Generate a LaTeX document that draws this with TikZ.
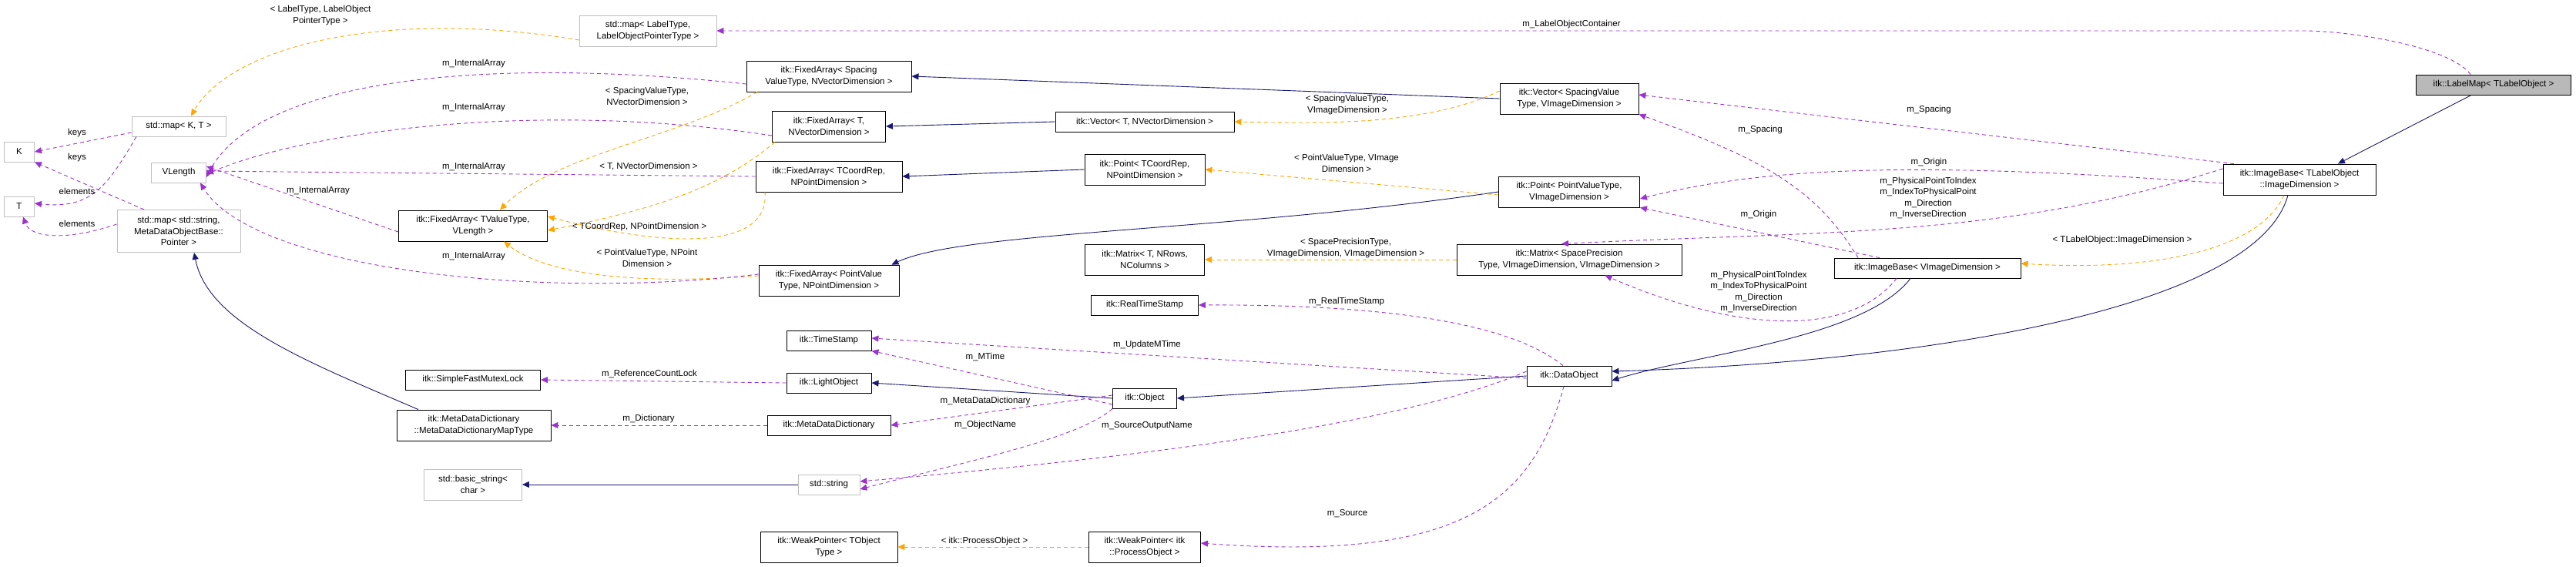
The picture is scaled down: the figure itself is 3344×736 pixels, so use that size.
\documentclass[tikz,border=0pt]{standalone}
\usepackage{fontspec}
\setmainfont{Liberation Sans}
\usepackage{tikz}
\usetikzlibrary{arrows.meta}
\definecolor{inhcol}{HTML}{191970}
\definecolor{usecol}{HTML}{9A32CD}
\definecolor{tplcol}{HTML}{FFA500}
\definecolor{stdcol}{HTML}{BFBFBF}
\tikzset{
  cls/.style={draw=black, line width=0.9pt, inner sep=1pt, align=center, font=\fontsize{11.5}{14.5}\selectfont},
  ext/.style={cls, draw=stdcol},
  lbl/.style={align=center, inner sep=0pt, font=\fontsize{11.5}{14.5}\selectfont},
  inh/.style={inhcol, line width=0.9pt, -{Triangle[length=9pt,width=8pt]}},
  use/.style={usecol, line width=0.9pt, dashed, dash pattern=on 5pt off 4pt, -{Triangle[length=9pt,width=8pt]}},
  tpl/.style={tplcol, line width=0.9pt, dashed, dash pattern=on 5pt off 4pt, -{Triangle[length=9pt,width=8pt]}},
}
\begin{document}
\begin{tikzpicture}[x=1pt,y=-1pt]
\useasboundingbox (0,0) rectangle (3344,736);

% classes
\node[cls, fill=gray!55, minimum width=201, minimum height=26] (labelmap) at (3237,110) {itk::LabelMap< TLabelObject >};
\node[cls, minimum width=198, minimum height=40] (imgbaseTL) at (2985,233) {itk::ImageBase< TLabelObject\\::ImageDimension >};
\node[cls, minimum width=242, minimum height=26] (imgbaseV) at (2502,348) {itk::ImageBase< VImageDimension >};
\node[cls, minimum width=180, minimum height=40] (vecSp) at (2037,128) {itk::Vector< SpacingValue\\Type, VImageDimension >};
\node[cls, minimum width=183, minimum height=40] (pointPV) at (2037,249) {itk::Point< PointValueType,\\VImageDimension >};
\node[cls, minimum width=292, minimum height=40] (matSP) at (2037,337) {itk::Matrix< SpacePrecision\\Type, VImageDimension, VImageDimension >};
\node[cls, minimum width=110, minimum height=26] (dataobj) at (2037,488) {itk::DataObject};
\node[cls, minimum width=232, minimum height=26] (vecTN) at (1486,158) {itk::Vector< T, NVectorDimension >};
\node[cls, minimum width=156, minimum height=40] (pointTC) at (1486,220) {itk::Point< TCoordRep,\\NPointDimension >};
\node[cls, minimum width=155, minimum height=40] (matT) at (1486,337) {itk::Matrix< T, NRows,\\NColumns >};
\node[cls, minimum width=139, minimum height=26] (realts) at (1486,396) {itk::RealTimeStamp};
\node[cls, minimum width=83, minimum height=26] (object) at (1486,517) {itk::Object};
\node[cls, minimum width=145, minimum height=40] (wpPO) at (1486,710) {itk::WeakPointer< itk\\::ProcessObject >};
\node[cls, minimum width=214, minimum height=40] (faSp) at (1076,99) {itk::FixedArray< Spacing\\ValueType, NVectorDimension >};
\node[cls, minimum width=147, minimum height=40] (faTN) at (1076,164) {itk::FixedArray< T,\\NVectorDimension >};
\node[cls, minimum width=190, minimum height=40] (faTC) at (1076,229) {itk::FixedArray< TCoordRep,\\NPointDimension >};
\node[cls, minimum width=182, minimum height=40] (faPV) at (1076,364) {itk::FixedArray< PointValue\\Type, NPointDimension >};
\node[cls, minimum width=110, minimum height=26] (timestamp) at (1076,442) {itk::TimeStamp};
\node[cls, minimum width=110, minimum height=26] (lightobj) at (1076,497) {itk::LightObject};
\node[cls, minimum width=160, minimum height=26] (mdd) at (1076,552) {itk::MetaDataDictionary};
\node[ext, minimum width=80, minimum height=26] (stdstr) at (1076,629) {std::string};
\node[cls, minimum width=178, minimum height=40] (wpT) at (1076,710) {itk::WeakPointer< TObject\\Type >};
\node[ext, minimum width=178, minimum height=40] (mapLabel) at (841,40) {std::map< LabelType,\\LabelObjectPointerType >};
\node[cls, minimum width=193, minimum height=40] (faTV) at (614,293) {itk::FixedArray< TValueType,\\VLength >};
\node[cls, minimum width=175, minimum height=26] (mutex) at (614,493) {itk::SimpleFastMutexLock};
\node[cls, minimum width=200, minimum height=40] (mddmap) at (615,552) {itk::MetaDataDictionary\\::MetaDataDictionaryMapType};
\node[ext, minimum width=127, minimum height=40] (basicstr) at (614,629) {std::basic\_string<\\char >};
\node[ext, minimum width=122, minimum height=26] (mapKT) at (232,164) {std::map< K, T >};
\node[ext, minimum width=71, minimum height=26] (vlength) at (232,224) {VLength};
\node[ext, minimum width=160, minimum height=55] (mapStr) at (232,300) {std::map< std::string,\\MetaDataObjectBase::\\Pointer >};
\node[ext, minimum width=39, minimum height=26] (K) at (25,197) {K};
\node[ext, minimum width=39, minimum height=26] (T) at (25,268) {T};

% inheritance
\draw[inh] (labelmap.south west) ++(72,0) -- ([xshift=50]imgbaseTL.north);
\draw[inh] ([xshift=-15]imgbaseTL.south) .. controls (2930,400) and (2500,470) .. ([yshift=6]dataobj.east);
\draw[inh] ([xshift=-22]imgbaseV.south) .. controls (2420,440) and (2200,460) .. ([yshift=-6]dataobj.east);
\draw[inh] (dataobj.west) -- (object.east);
\draw[inh] (object.west) -- (lightobj.east);
\draw[inh] (vecSp.west) -- (faSp.east);
\draw[inh] (vecTN.west) -- (faTN.east);
\draw[inh] (pointTC.west) -- (faTC.east);
\draw[inh] (pointPV.west) .. controls (1600,300) and (1250,300) .. ([xshift=-10]faPV.north east);
\draw[inh] ([xshift=-72]mddmap.north) .. controls (400,470) and (270,420) .. ([xshift=20]mapStr.south);
\draw[inh] (stdstr.west) -- (basicstr.east);

% template instances
\draw[tpl] ([yshift=-12]mapLabel.west) .. controls (500,10) and (300,60) .. ([xshift=16]mapKT.north);
\draw[tpl] ([xshift=-93]faSp.south) .. controls (880,180) and (720,200) .. ([xshift=35]faTV.north);
\draw[tpl] ([xshift=-70]faTN.south) .. controls (940,240) and (860,270) .. ([yshift=-6]faTV.east);
\draw[tpl] ([xshift=-83]faTC.south) .. controls (1000,330) and (850,318) .. ([yshift=12]faTV.east);
\draw[tpl] ([yshift=6]faPV.west) .. controls (800,372) and (700,350) .. ([xshift=40]faTV.south);
\draw[tpl] ([yshift=10]vecSp.west) .. controls (1850,165) and (1700,160) .. (vecTN.east);
\draw[tpl] ([yshift=-4]pointPV.west) -- (pointTC.east);
\draw[tpl] (matSP.west) -- (matT.east);
\draw[tpl] ([xshift=-20]imgbaseTL.south) .. controls (2930,330) and (2780,352) .. ([yshift=6]imgbaseV.east);
\draw[tpl] (wpPO.west) -- (wpT.east);

% members
\draw[use] ([xshift=-30]labelmap.north) .. controls (3180,60) and (3050,40) .. (2990,40) -- (mapLabel.east);
\draw[use] ([xshift=-85]imgbaseTL.north) -- ([yshift=5]vecSp.east);
\draw[use] ([yshift=-5]imgbaseTL.west) .. controls (2500,210) and (2300,215) .. ([yshift=-9]pointPV.east);
\draw[use] ([yshift=14]imgbaseTL.west) .. controls (2600,310) and (2350,300) .. ([xshift=-10]matSP.north);
\draw[use] ([xshift=-90]imgbaseV.north) .. controls (2360,250) and (2300,210) .. (vecSp.south east);
\draw[use] ([xshift=-62]imgbaseV.north) -- (pointPV.south east);
\draw[use] ([xshift=-40]imgbaseV.south) .. controls (2400,440) and (2250,430) .. ([xshift=-100]matSP.south east);
\draw[use] ([xshift=-8]dataobj.north) .. controls (1950,410) and (1750,395) .. (realts.east);
\draw[use] ([yshift=-3]dataobj.west) -- ([yshift=3]timestamp.east);
\draw[use] ([yshift=-8]object.west) -- (timestamp.south east);
\draw[use] (lightobj.west) -- (mutex.east);
\draw[use] ([yshift=4]object.west) -- (mdd.east);
\draw[use] (mdd.west) -- (mddmap.east);
\draw[use] (object.south west) .. controls (1400,570) and (1250,600) .. ([yshift=-6]stdstr.east);
\draw[use] ([yshift=6]dataobj.west) .. controls (1800,560) and (1400,600) .. ([yshift=4]stdstr.east);
\draw[use] ([xshift=-7]dataobj.south) .. controls (1990,650) and (1900,730) .. ([yshift=5]wpPO.east);
\draw[use] ([yshift=-10]faSp.west) .. controls (600,70) and (330,110) .. ([yshift=-6]vlength.east);
\draw[use] ([yshift=-12]faTN.west) .. controls (700,130) and (400,170) .. ([yshift=-2]vlength.east);
\draw[use] (faTC.west) -- ([yshift=2]vlength.east);
\draw[use] ([yshift=8]faPV.west) .. controls (700,390) and (330,350) .. ([xshift=-8]vlength.south east);
\draw[use] ([yshift=-8]faTV.west) -- ([yshift=8]vlength.east);
\draw[use] ([yshift=-8]mapKT.west) -- (K.east);
\draw[use] ([xshift=-55]mapKT.south) .. controls (140,240) and (120,272) .. ([yshift=4]T.east);
\draw[use] ([xshift=-45]mapStr.north) -- (K.south east);
\draw[use] ([yshift=9]mapStr.west) .. controls (90,312) and (40,310) .. ([xshift=-15]T.south east);

% labels
\node[lbl] (lLOC) at (2040,32) {m\_LabelObjectContainer};
\node[lbl] (lMapTpl) at (416,20) {< LabelType, LabelObject\\PointerType >};
\node[lbl] (lIA1) at (615,83) {m\_InternalArray};
\node[lbl] (lIA2) at (615,140) {m\_InternalArray};
\node[lbl] (lIA3) at (615,217) {m\_InternalArray};
\node[lbl] (lIA4) at (615,333) {m\_InternalArray};
\node[lbl] (lIA5) at (413,248) {m\_InternalArray};
\node[lbl] (lKeys1) at (100,173) {keys};
\node[lbl] (lKeys2) at (100,205) {keys};
\node[lbl] (lElem1) at (100,248) {elements};
\node[lbl] (lElem2) at (100,290) {elements};
\node[lbl] (lSpTpl) at (840,125) {< SpacingValueType,\\NVectorDimension >};
\node[lbl] (lTNTpl) at (842,216) {< T, NVectorDimension >};
\node[lbl] (lTCTpl) at (830,295) {< TCoordRep, NPointDimension >};
\node[lbl] (lPVTpl) at (840,335) {< PointValueType, NPoint\\Dimension >};
\node[lbl] (lVecTpl) at (1749,136) {< SpacingValueType,\\VImageDimension >};
\node[lbl] (lPtTpl) at (1748,212) {< PointValueType, VImage\\Dimension >};
\node[lbl] (lMatTpl) at (1747,322) {< SpacePrecisionType,\\VImageDimension, VImageDimension >};
\node[lbl] (lRTS) at (1748,392) {m\_RealTimeStamp};
\node[lbl] (lUMT) at (1489,448) {m\_UpdateMTime};
\node[lbl] (lMT) at (1279,463) {m\_MTime};
\node[lbl] (lRCL) at (843,485) {m\_ReferenceCountLock};
\node[lbl] (lDict) at (842,544) {m\_Dictionary};
\node[lbl] (lMDD) at (1279,521) {m\_MetaDataDictionary};
\node[lbl] (lON) at (1279,552) {m\_ObjectName};
\node[lbl] (lSON) at (1489,553) {m\_SourceOutputName};
\node[lbl] (lSrc) at (1749,667) {m\_Source};
\node[lbl] (lPO) at (1278,703) {< itk::ProcessObject >};
\node[lbl] (lSp1) at (2504,143) {m\_Spacing};
\node[lbl] (lSp2) at (2285,169) {m\_Spacing};
\node[lbl] (lOr1) at (2504,211) {m\_Origin};
\node[lbl] (lOr2) at (2283,279) {m\_Origin};
\node[lbl] (lMat1) at (2503,257) {m\_PhysicalPointToIndex\\m\_IndexToPhysicalPoint\\m\_Direction\\m\_InverseDirection};
\node[lbl] (lMat2) at (2283,379) {m\_PhysicalPointToIndex\\m\_IndexToPhysicalPoint\\m\_Direction\\m\_InverseDirection};
\node[lbl] (lIBTpl) at (2755,312) {< TLabelObject::ImageDimension >};
\end{tikzpicture}
\end{document}
